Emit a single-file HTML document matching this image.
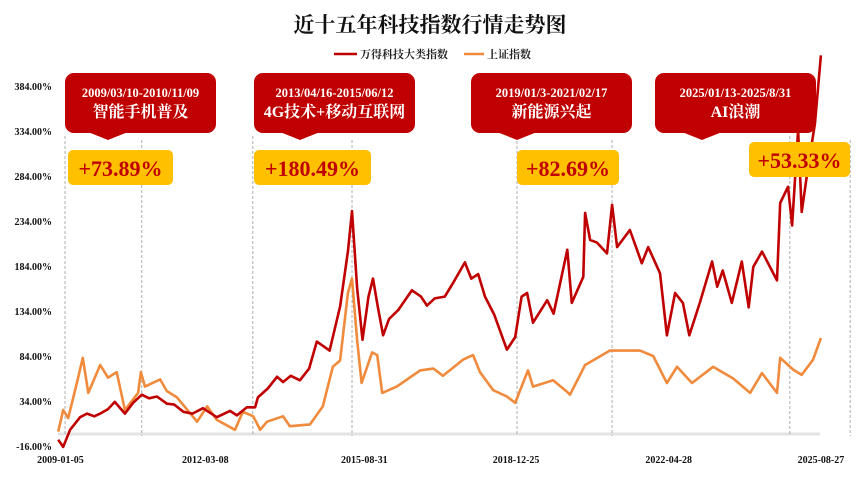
<!DOCTYPE html>
<html><head><meta charset="utf-8">
<style>
html,body{margin:0;padding:0;background:#fff;}
svg{display:block;font-family:"Liberation Serif","Noto Serif CJK SC",serif;}
</style></head>
<body>
<svg id="chart" width="859" height="498" viewBox="0 0 859 498">
<text x="430" y="32" text-anchor="middle" font-size="21" font-weight="bold" fill="#111">近十五年科技指数行情走势图</text>
<g>
  <g><line x1="334" y1="54" x2="357" y2="54" stroke="#c00000" stroke-width="2.5"/><text x="360" y="58" font-size="11" font-weight="bold" fill="#222">万得科技大类指数</text></g>
  <g><line x1="464" y1="54" x2="484" y2="54" stroke="#f08a3c" stroke-width="2.5"/><text x="487" y="58" font-size="11" font-weight="bold" fill="#222">上证指数</text></g>
</g>
<g id="yaxis"></g>
<g id="xaxis"></g>
<line x1="58" y1="434" x2="820" y2="434" stroke="#e3e3e3" stroke-width="3"/>
<g id="vlines"></g>
<g id="series"></g>
<g id="callouts"></g>
</svg>
<script>
const yTicks=[-16,34,84,134,184,234,284,334,384];
const xTickLabels=["2009-01-05","2012-03-08","2015-08-31","2018-12-25","2022-04-28","2025-08-27"];
const xTickTimes=[2009.01,2012.18,2015.66,2018.98,2022.32,2025.65];
const markerTimes=[2009.11,2010.79,2013.22,2015.39,2019.0,2021.08,2024.97,2026.29];
const techDates=[2008.96,2009.07,2009.22,2009.44,2009.59,2009.75,2009.88,2010.05,2010.2,2010.42,2010.6,2010.79,2010.95,2011.12,2011.34,2011.5,2011.7,2011.9,2012.13,2012.43,2012.72,2012.87,2013.09,2013.27,2013.33,2013.55,2013.75,2013.88,2014.05,2014.25,2014.45,2014.62,2014.9,2015.13,2015.3,2015.39,2015.5,2015.62,2015.75,2015.85,2015.95,2016.07,2016.2,2016.4,2016.7,2016.9,2017.03,2017.2,2017.42,2017.6,2017.86,2018.0,2018.15,2018.3,2018.5,2018.78,2018.96,2019.1,2019.22,2019.35,2019.66,2019.8,2020.1,2020.2,2020.45,2020.49,2020.6,2020.75,2020.97,2021.08,2021.19,2021.47,2021.73,2021.87,2022.13,2022.28,2022.46,2022.63,2022.77,2023.0,2023.27,2023.38,2023.5,2023.7,2023.92,2024.07,2024.17,2024.36,2024.69,2024.76,2024.93,2025.02,2025.15,2025.23,2025.35,2025.52,2025.65];
const techVals=[-9,-17,2,16,20,17,20,25,33,20,32,41,37,39,31,30,22,20,26,16,23,18,27,27,38,48,61,55,62,57,70,100,90,139,200,245,160,102,150,170,140,107,125,135,157,150,140,148,150,165,188,170,175,150,130,91,105,150,154,121,146,131,202,143,172,243,213,210,198,252,205,224,187,205,176,107,154,143,107,143,189,161,179,143,189,138,183,200,168,254,272,229,335,244,287,343,418];
const sseDates=[2008.96,2009.07,2009.18,2009.35,2009.5,2009.62,2009.88,2010.05,2010.24,2010.42,2010.71,2010.77,2010.86,2011.19,2011.34,2011.56,2012.0,2012.22,2012.43,2012.83,2013.0,2013.23,2013.38,2013.53,2013.88,2014.03,2014.47,2014.75,2014.97,2015.13,2015.3,2015.39,2015.5,2015.6,2015.83,2015.94,2016.05,2016.37,2016.88,2017.17,2017.38,2017.82,2018.04,2018.19,2018.48,2018.78,2018.96,2019.24,2019.35,2019.79,2020.1,2020.16,2020.49,2021.03,2021.69,2021.98,2022.28,2022.5,2022.83,2023.29,2023.73,2024.1,2024.36,2024.69,2024.76,2025.04,2025.23,2025.48,2025.65];
const sseVals=[0,24,15,50,82,43,74,60,66,24,43,66,50,58,45,38,11,28,13,2,22,17,2,11,17,6,8,28,72,79,154,170,102,54,88,85,43,50,68,70,62,80,85,66,46,39,32,68,50,57,44,41,74,90,90,84,54,72,54,72,59,43,65,43,82,69,63,80,104];
const periodLabels=["2009/03/10-2010/11/09","2013/04/16-2015/06/12","2019/01/3-2021/02/17","2025/01/13-2025/8/31"];
const periodNames=["智能手机普及","4G技术+移动互联网","新能源兴起","AI浪潮"];
const periodGains=["+73.89%","+180.49%","+82.69%","+53.33%"];

const NS="http://www.w3.org/2000/svg";
function X(t){return 60+(t-2009)*45.7;}
function Y(v){return 431.6-v*0.9;}
function mk(tag,attrs,parent){const e=document.createElementNS(NS,tag);for(const k in attrs)e.setAttribute(k,attrs[k]);parent.appendChild(e);return e;}

const ya=document.getElementById('yaxis');
yTicks.forEach(v=>{
  const t=mk('text',{x:52,y:Y(v)+4,'text-anchor':'end','font-size':'10','font-weight':'bold',fill:'#111'},ya);
  
  
  t.textContent=v.toFixed(2)+'%';
});
const xa=document.getElementById('xaxis');
xTickLabels.forEach((l,i)=>{
  const t=mk('text',{x:X(xTickTimes[i]),y:463,'text-anchor':'middle','font-size':'10','font-weight':'bold',fill:'#111'},xa);
  
  
  t.textContent=l;
});
const vl=document.getElementById('vlines');
markerTimes.forEach((m,i)=>{
  const l=mk('line',{x1:X(m),x2:X(m),y1:(i%2==0?136:140),y2:436,stroke:'#9a9a9a','stroke-width':'0.8','stroke-dasharray':'3,2'},vl);
  
  
});
const sg=document.getElementById('series');
function pts(d,v){return d.map((t,i)=>X(t).toFixed(1)+','+Y(v[i]).toFixed(1)).join(' ');}
const ps=mk('polyline',{points:pts(sseDates,sseVals),fill:'none',stroke:'#f08a3c','stroke-width':'2.6','stroke-linejoin':'round'},sg);


const pt=mk('polyline',{points:pts(techDates,techVals),fill:'none',stroke:'#c00000','stroke-width':'2.6','stroke-linejoin':'round'},sg);



const boxes=[[65,216,108],[254,415,300],[471,632,517],[655,816,702]];
const gBoxes=[[68,173,150],[254,371,150],[517,619,150],[749,850,142]];
const cg=document.getElementById('callouts');
boxes.forEach((b,i)=>{
  const g=mk('g',{},cg);
  
  
  mk('rect',{x:b[0],y:73,width:b[1]-b[0],height:60,rx:9,fill:'#c00000'},g);
  mk('polygon',{points:(b[2]-20)+',132 '+(b[2]+20)+',132 '+b[2]+',140',fill:'#c00000'},g);
  const cx=(b[0]+b[1])/2;
  const t1=mk('text',{x:cx,y:97,'text-anchor':'middle','font-size':'12.5','font-weight':'bold',fill:'#fff'},g);
  t1.textContent=periodLabels[i];
  const t2=mk('text',{x:cx,y:117,'text-anchor':'middle','font-size':'16','font-weight':'bold',fill:'#fff'},g);
  t2.textContent=periodNames[i];
  const gb=gBoxes[i];
  const g2=mk('g',{},cg);
  
  
  mk('rect',{x:gb[0],y:gb[2],width:gb[1]-gb[0],height:35,rx:5,fill:'#ffc000'},g2);
  const t3=mk('text',{x:(gb[0]+gb[1])/2,y:gb[2]+26,'text-anchor':'middle','font-size':'22','font-weight':'bold',fill:'#c00000'},g2);
  t3.textContent=periodGains[i];
});
</script>
</body></html>
